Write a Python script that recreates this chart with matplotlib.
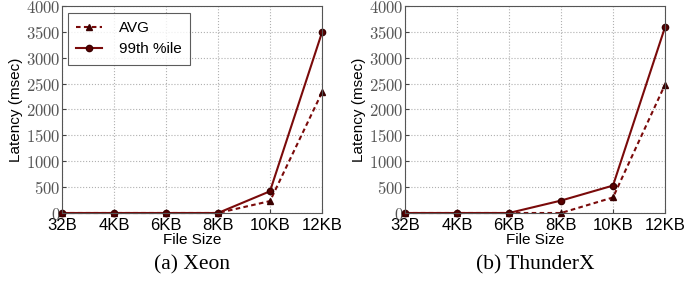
import matplotlib
matplotlib.use("Agg")
import matplotlib.pyplot as plt

categories = ["32B", "4KB", "6KB", "8KB", "10KB", "12KB"]
xeon_avg = [0, 0, 0, 0, 230, 2330]
xeon_p99 = [0, 0, 0, 0, 420, 3490]
tx_avg = [0, 0, 0, 0, 300, 2480]
tx_p99 = [0, 0, 0, 240, 530, 3590]
yticks = [0, 500, 1000, 1500, 2000, 2500, 3000, 3500, 4000]
captions = ["(a) Xeon", "(b) ThunderX"]

plt.rcParams['mathtext.fontset'] = 'cm'
color = '#7a0a0a'

fig = plt.figure(figsize=(6.99, 2.81), dpi=100)
W, H = 699, 281
panels = [(62, xeon_avg, xeon_p99, captions[0]), (405, tx_avg, tx_p99, captions[1])]
for left, avg, p99, cap in panels:
    ax = fig.add_axes([left / W, 1 - 213 / H, 260 / W, 207 / H])
    x = list(range(len(categories)))
    ax.plot(x, avg, linestyle=(0, (2.2, 1.6)), color=color, lw=1.5, marker='^',
            markersize=4.5, markerfacecolor='#3a0000', markeredgecolor='#3a0000', label='AVG')
    ax.plot(x, p99, linestyle='-', color=color, lw=1.5, marker='o',
            markersize=4.5, markerfacecolor='#5a0000', markeredgecolor='#3a0000', label='99th %ile')
    ax.set_xlim(0, 5)
    ax.set_ylim(0, 4000)
    ax.set_xticks(x)
    ax.set_xticklabels(categories, fontsize=12, family='Liberation Sans')
    ax.set_yticks(yticks)
    ax.set_yticklabels([r'$%d$' % v for v in yticks], fontsize=12, color='#555555')
    ax.tick_params(axis='both', direction='in', length=3, pad=1, color='#444444')
    ax.tick_params(axis='x', pad=3.5)
    ax.grid(True, linestyle=':', color='#b0b0b0', lw=0.8)
    for s in ax.spines.values():
        s.set_color('#555555')
        s.set_linewidth(0.8)
    ax.set_xlabel('File Size', fontsize=11, family='Liberation Sans', labelpad=0)
    ax.set_ylabel('Latency (msec)', fontsize=11, family='Liberation Sans', labelpad=2)
    for l in ax.get_lines():
        l.set_clip_on(False)
    fig.text((left + 130) / W, 1 - 265 / H, cap, ha='center', va='center',
             fontsize=15.5, family='Liberation Serif')
    if left == 62:
        leg = ax.legend(loc='upper left', prop={'family': 'Liberation Sans', 'size': 11},
                        fancybox=False, edgecolor='#333333', handlelength=1.7,
                        borderpad=0.55, labelspacing=0.45, handletextpad=1.1,
                        bbox_to_anchor=(0.023, 0.966), borderaxespad=0)
        leg.get_frame().set_linewidth(0.8)

fig.savefig('out.png', dpi=100)
